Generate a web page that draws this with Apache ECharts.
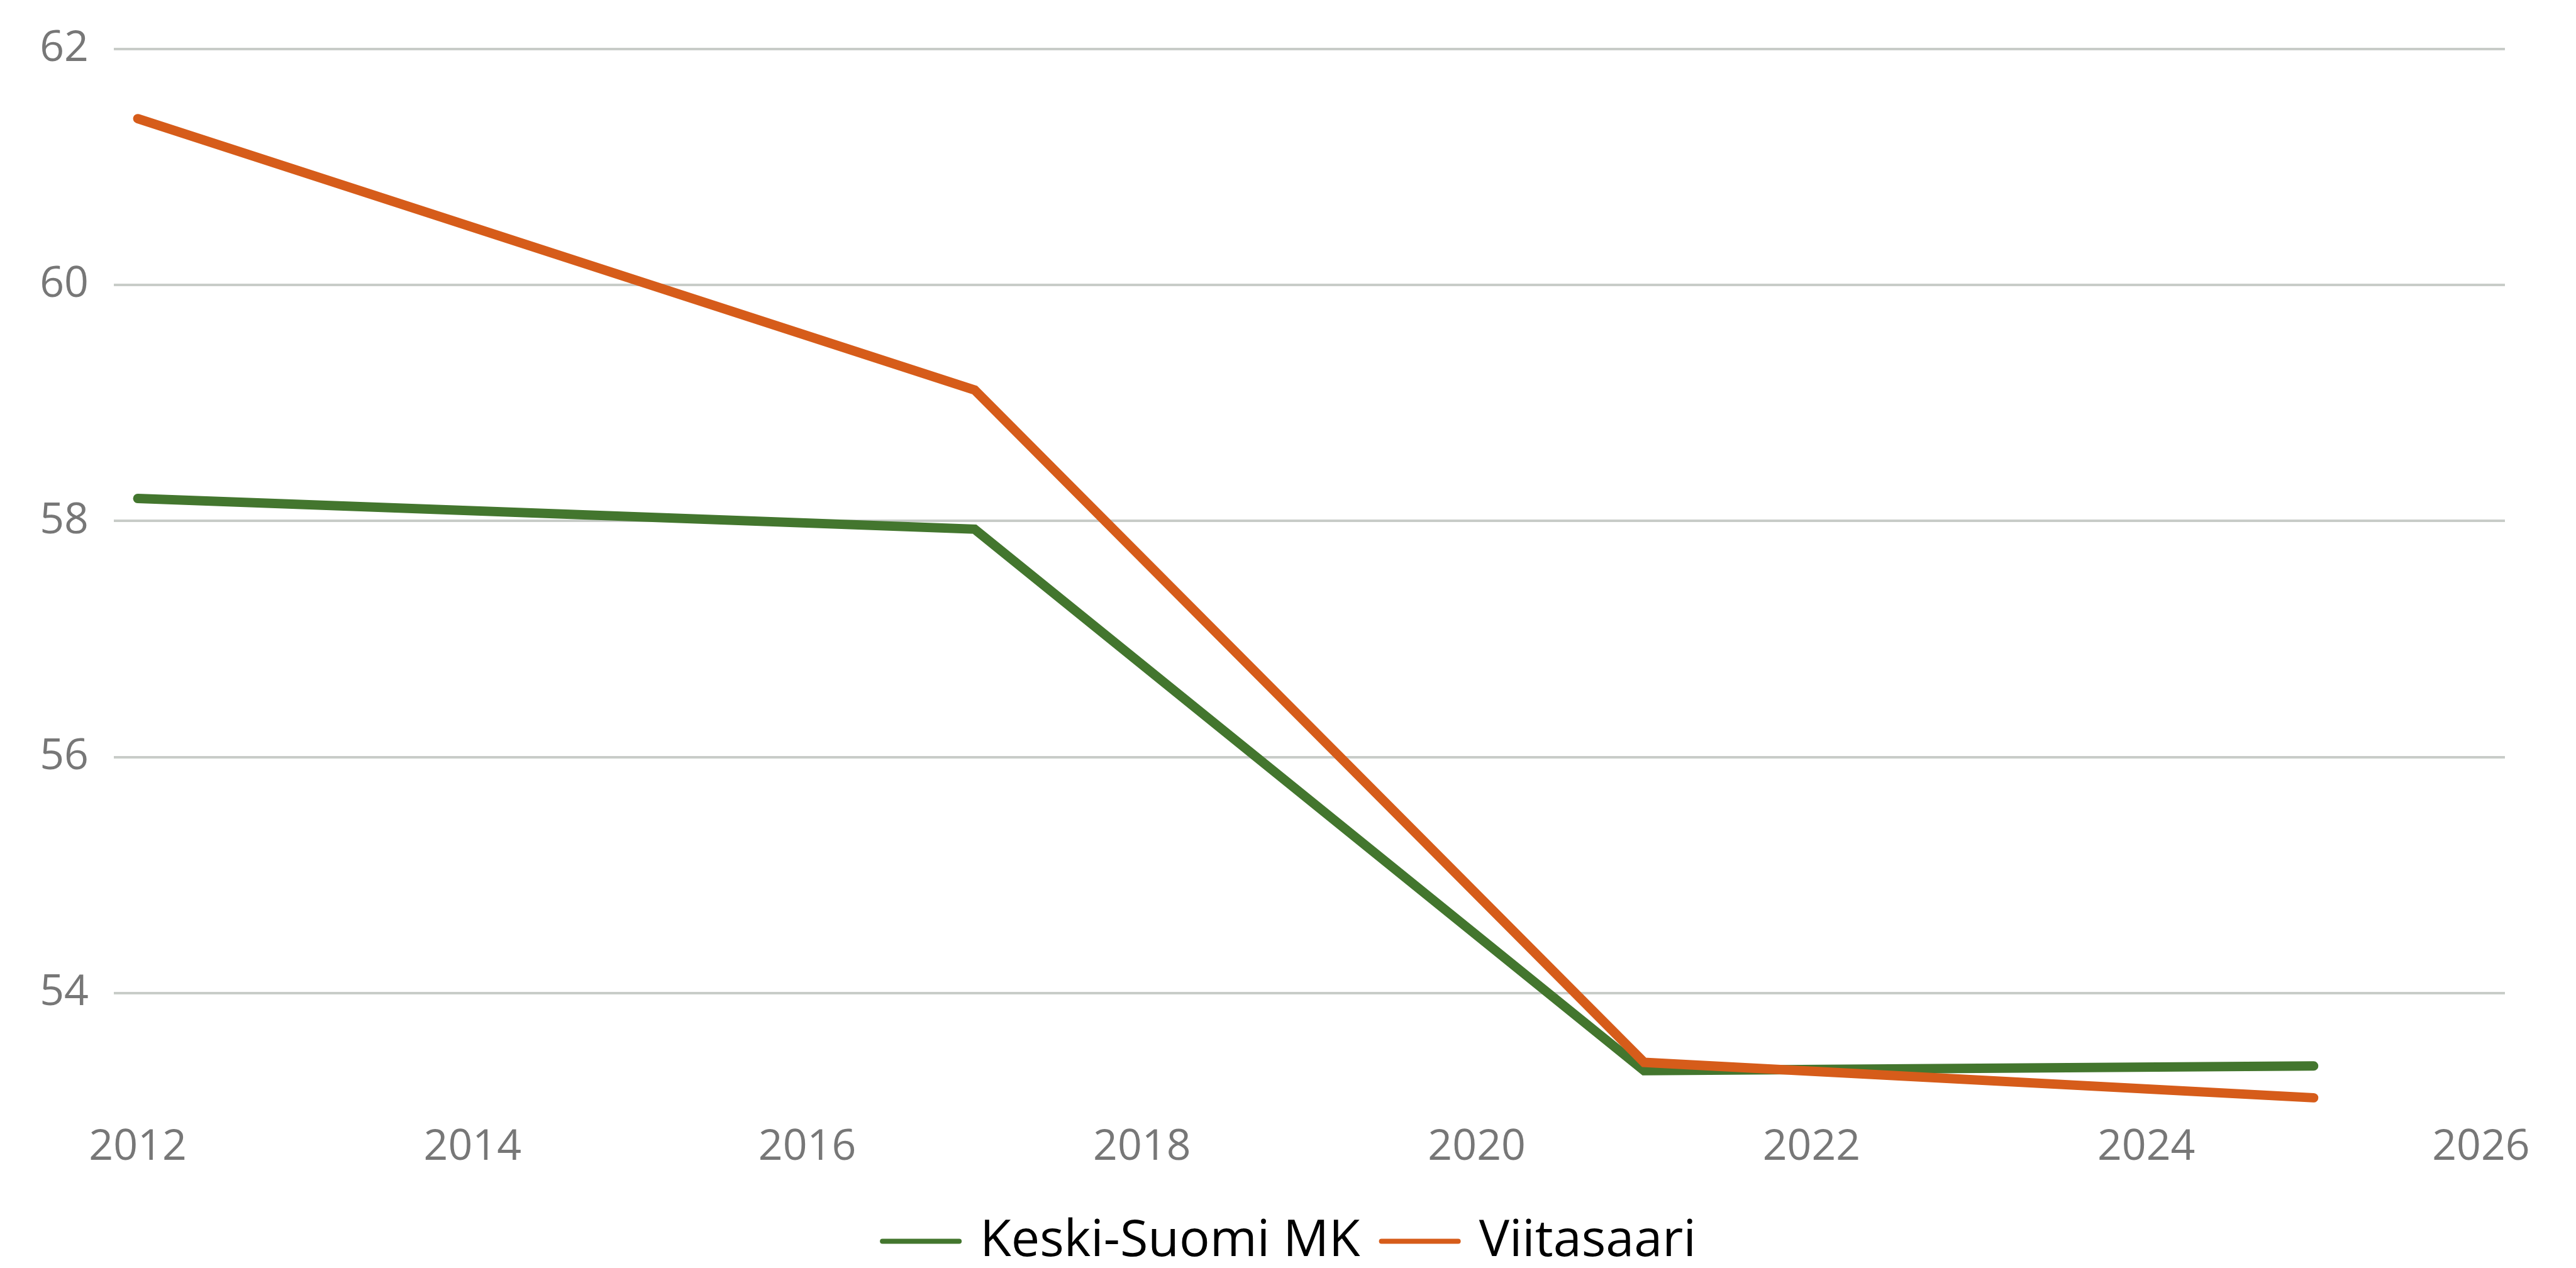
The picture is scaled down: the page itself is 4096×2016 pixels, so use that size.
<!DOCTYPE html>
<html>
<head>
<meta charset="utf-8">
<script src="https://cdn.jsdelivr.net/npm/echarts@6/dist/echarts.min.js"></script>
<style>
  html, body { margin: 0; padding: 0; background: #fff; }
  #chart { width: 4096px; height: 2016px; }
</style>
</head>
<body>
<div id="chart"></div>
<script>
// data
const years = [2012, 2017, 2021, 2025];
const keskiSuomi = [58.19, 57.93, 53.34, 53.38];
const viitasaari = [61.41, 59.11, 53.41, 53.11];
const xTicks = [2012, 2014, 2016, 2018, 2020, 2022, 2024, 2026];
const yTicks = [54, 56, 58, 60, 62];

const font = '"Open Sans", "Noto Sans", sans-serif';
const chart = echarts.init(document.getElementById('chart'));

const pairs = (vals) => years.map((y, i) => [y, vals[i]]);

chart.setOption({
    backgroundColor: '#fff',
    animation: false,
    grid: {
        left: 181,
        right: 113,
        top: 78,
        bottom: 250,
        outerBoundsMode: 'none'
    },
    legend: {
        top: 1928,
        left: 'center',
        itemWidth: 122,
        itemHeight: 20,
        itemGap: 30,
        itemStyle: { opacity: 0 },
        lineStyle: { width: 8, cap: 'round' },
        textStyle: {
            fontFamily: font,
            fontSize: 81,
            color: '#000',
            padding: [0, 0, 0, 28]
        },
        data: ['Keski-Suomi MK', 'Viitasaari']
    },
    xAxis: {
        type: 'value',
        min: 2011.857,
        max: 2026.143,
        axisLine: { show: false },
        axisTick: { show: false, customValues: xTicks },
        splitLine: { show: false },
        axisLabel: {
            customValues: xTicks,
            formatter: v => String(v),
            margin: 25,
            fontFamily: font,
            fontSize: 68,
            color: '#777777'
        }
    },
    yAxis: {
        type: 'value',
        min: 53,
        max: 62,
        axisLine: { show: false },
        axisTick: { show: false, customValues: yTicks },
        splitLine: { show: true, lineStyle: { color: '#c8ccc8', width: 4 } },
        axisLabel: {
            customValues: yTicks,
            margin: 40,
            fontFamily: font,
            fontSize: 68,
            color: '#777777'
        }
    },
    series: [
        {
            name: 'Keski-Suomi MK',
            type: 'line',
            data: pairs(keskiSuomi),
            symbol: 'none',
            color: '#43762e',
            lineStyle: { width: 15, cap: 'round', join: 'miter' }
        },
        {
            name: 'Viitasaari',
            type: 'line',
            data: pairs(viitasaari),
            symbol: 'none',
            color: '#d65c1a',
            lineStyle: { width: 15, cap: 'round', join: 'miter' }
        }
    ]
});

window.addEventListener('resize', function () {
    chart.resize();
});
</script>
</body>
</html>
